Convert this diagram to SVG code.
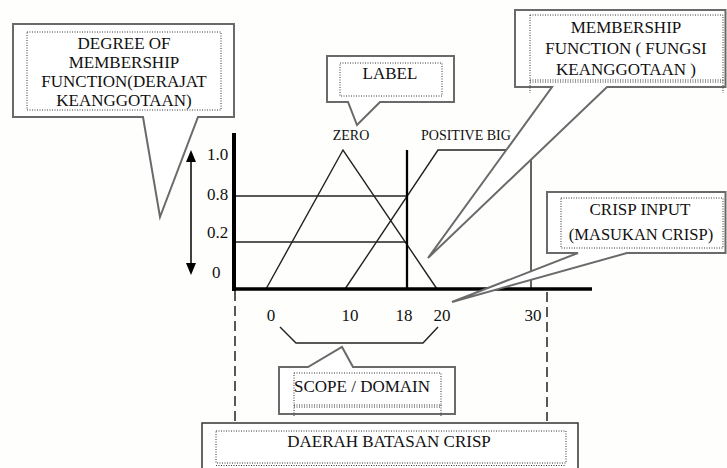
<svg xmlns="http://www.w3.org/2000/svg" width="727" height="468" viewBox="0 0 727 468">
<defs>
<style>
text{font-family:'Liberation Serif','Times New Roman',serif;fill:#111;}
.t17{font-size:17px;}
.t14{font-size:14px;}
.mid{text-anchor:middle;}
.call{fill:#fff;stroke:#6a6a6a;stroke-width:2;stroke-linejoin:miter;}
.dot{fill:none;stroke:#333;stroke-width:1;stroke-dasharray:1 1.5;}
.ln{fill:none;stroke:#222;stroke-width:1.4;}
.axis{fill:none;stroke:#000;}
.dash{fill:none;stroke:#222;stroke-width:1.5;stroke-dasharray:10 5;}
</style>
</defs>
<rect width="727" height="468" fill="#fefefd"/>
<g font-family="Liberation Serif">
<g id="chart">
<line class="dash" x1="235" y1="291" x2="235" y2="421"/>
<line class="dash" x1="547" y1="292" x2="547" y2="421"/>
<line class="ln" x1="234" y1="196" x2="407" y2="196"/>
<line class="ln" x1="234" y1="242" x2="407" y2="242"/>
<polyline class="ln" points="266,289 343,150 437,289"/>
<polyline class="ln" points="345,289 438,150 531,150 531,289"/>
<line class="axis" stroke-width="2.3" x1="407" y1="150" x2="407" y2="289"/>
<line class="axis" stroke-width="4" x1="234" y1="133" x2="234" y2="291"/>
<line class="axis" stroke-width="3.5" x1="232" y1="289" x2="592" y2="289"/>
<text class="t17" x="207" y="160">1.0</text>
<text class="t17" x="207" y="200">0.8</text>
<text class="t17" x="207" y="238">0.2</text>
<text class="t17" x="212" y="278">0</text>
<text class="t17 mid" x="271" y="321">0</text>
<text class="t17 mid" x="350" y="321">10</text>
<text class="t17 mid" x="404" y="321">18</text>
<text class="t17 mid" x="442" y="321">20</text>
<text class="t17 mid" x="533" y="321">30</text>
<text class="t14 mid" x="351" y="140">ZERO</text>
<text class="t14" x="421" y="140">POSITIVE BIG</text>
</g>

<g id="connectors">
<line x1="191" y1="161" x2="191" y2="263" stroke="#000" stroke-width="1.5"/>
<path d="M191,150 L186,162 L196,162 Z" fill="#000"/>
<path d="M191,275 L186,263 L196,263 Z" fill="#000"/>
<polyline class="ln" points="280,327 296,343 423,343 438,327"/>
</g>

<g id="degree">
<path class="call" d="M13,24 H234 V117 H198 L160,217 L143,117 H13 Z"/>
<rect class="dot" x="27" y="32" width="194" height="78"/>
<text class="t17 mid" x="124" y="49">DEGREE OF</text>
<text class="t17 mid" x="124" y="68">MEMBERSHIP</text>
<text class="t17 mid" x="124" y="87">FUNCTION(DERAJAT</text>
<text class="t17 mid" x="124" y="106">KEANGGOTAAN)</text>
</g>

<g id="label">
<path class="call" d="M327,56 H454 V102 H380 L357,125 L348,102 H327 Z"/>
<rect class="dot" x="340" y="63" width="102" height="33"/>
<text class="t17 mid" x="390" y="79">LABEL</text>
</g>

<g id="membership">
<path class="call" d="M515,10 H725.5 V87 H607 L428,258 L552,87 H515 Z"/>
<rect class="dot" x="530" y="15" width="193" height="65"/>
<line class="dot" x1="530" y1="82" x2="723" y2="82"/>
<line class="dot" x1="530" y1="80" x2="530" y2="93"/>
<line class="dot" x1="723" y1="80" x2="723" y2="93"/>
<text class="t17 mid" x="626" y="33">MEMBERSHIP</text>
<text class="t17 mid" x="626" y="54">FUNCTION ( FUNGSI</text>
<text class="t17 mid" x="626" y="75">KEANGGOTAAN )</text>
</g>

<g id="crisp">
<path class="call" d="M547,192 H725.5 V253 H627 L452,302 L578,253 H547 Z"/>
<rect class="dot" x="561" y="198" width="162" height="50"/>
<text class="t17 mid" x="640" y="215">CRISP INPUT</text>
<text class="mid" font-size="16.5" x="641" y="240">(MASUKAN CRISP)</text>
</g>

<g id="scope">
<path class="call" d="M279,367 H308 L342,347 L353,367 H455 V414 H279 Z"/>
<rect class="dot" x="294" y="373" width="147" height="32"/>
<line class="dot" x1="294" y1="407" x2="441" y2="407"/>
<line class="dot" x1="294" y1="405" x2="294" y2="417"/>
<line class="dot" x1="441" y1="405" x2="441" y2="417"/>
<text class="t17" x="294" y="392">SCOPE / DOMAIN</text>
</g>

<g id="daerah">
<rect x="202" y="423" width="376" height="60" fill="#fff" stroke="#333" stroke-width="1.5"/>
<rect class="dot" x="216" y="431" width="350" height="32"/>
<line class="dot" x1="216" y1="465.5" x2="566" y2="465.5"/>
<text class="t17 mid" x="389" y="447">DAERAH BATASAN CRISP</text>
</g>
</g>
</svg>
